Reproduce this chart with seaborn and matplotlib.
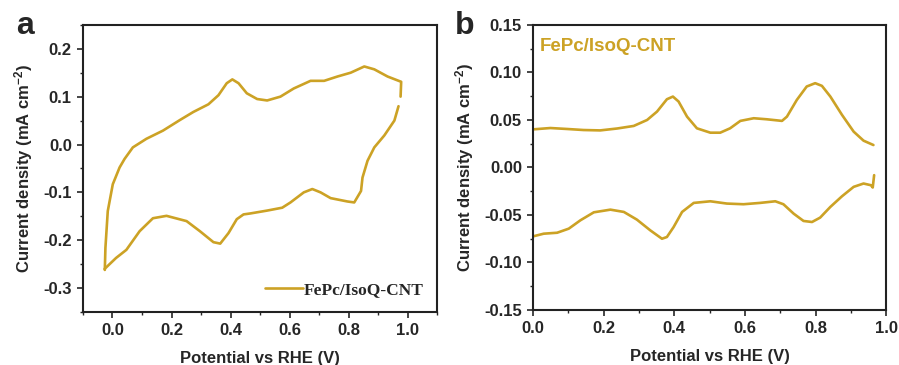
import matplotlib
matplotlib.use("Agg")
import matplotlib.pyplot as plt
from matplotlib.ticker import MultipleLocator, FormatStrFormatter
import pandas as pd
import seaborn as sns

# panel a: CV loop, anodic (upper) branch and cathodic (lower) branch
a_up_x = [-0.026, -0.024, -0.016, 0.001, 0.024, 0.041, 0.069, 0.115, 0.171, 0.228,
          0.274, 0.325, 0.359, 0.387, 0.406, 0.427, 0.455, 0.490, 0.524, 0.569,
          0.614, 0.671, 0.717, 0.762, 0.807, 0.853, 0.887, 0.932, 0.978, 0.976]
a_up_y = [-0.262, -0.216, -0.139, -0.083, -0.048, -0.030, -0.006, 0.012, 0.029, 0.051,
          0.068, 0.084, 0.103, 0.128, 0.136, 0.128, 0.107, 0.095, 0.092, 0.100,
          0.117, 0.133, 0.133, 0.142, 0.150, 0.163, 0.157, 0.142, 0.131, 0.100]
a_dn_x = [0.969, 0.955, 0.921, 0.887, 0.864, 0.847, 0.842, 0.819, 0.796, 0.739,
          0.705, 0.677, 0.648, 0.603, 0.575, 0.524, 0.467, 0.444, 0.421, 0.393,
          0.365, 0.342, 0.296, 0.251, 0.183, 0.137, 0.092, 0.047, 0.012, -0.027]
a_dn_y = [0.080, 0.050, 0.019, -0.006, -0.034, -0.069, -0.097, -0.121, -0.119, -0.112,
          -0.100, -0.093, -0.100, -0.121, -0.132, -0.138, -0.144, -0.146, -0.156, -0.185,
          -0.207, -0.204, -0.181, -0.160, -0.149, -0.154, -0.181, -0.220, -0.237, -0.260]

# panel b: two branches
b_up_x = [0.000, 0.049, 0.096, 0.143, 0.190, 0.238, 0.285, 0.323, 0.351, 0.379,
          0.396, 0.412, 0.436, 0.464, 0.502, 0.530, 0.558, 0.587, 0.625, 0.662,
          0.705, 0.719, 0.747, 0.775, 0.799, 0.818, 0.842, 0.875, 0.908, 0.936, 0.964]
b_up_y = [0.0401, 0.0415, 0.0405, 0.0394, 0.0390, 0.0410, 0.0437, 0.0500, 0.0588, 0.0718,
          0.0746, 0.0694, 0.0535, 0.0412, 0.0366, 0.0366, 0.0412, 0.0490, 0.0518, 0.0507,
          0.0490, 0.0535, 0.0711, 0.0852, 0.0887, 0.0859, 0.0746, 0.0553, 0.0377, 0.0282, 0.0236]
b_dn_x = [0.000, 0.030, 0.068, 0.101, 0.134, 0.172, 0.219, 0.257, 0.294, 0.332,
          0.365, 0.379, 0.398, 0.422, 0.455, 0.502, 0.549, 0.596, 0.643, 0.686,
          0.709, 0.738, 0.766, 0.790, 0.813, 0.842, 0.875, 0.908, 0.936, 0.957, 0.962, 0.966]
b_dn_y = [-0.0725, -0.0697, -0.0687, -0.0644, -0.0556, -0.0472, -0.0444, -0.0468, -0.0549, -0.0662,
          -0.0750, -0.0732, -0.0627, -0.0468, -0.0373, -0.0356, -0.0380, -0.0387, -0.0373, -0.0356,
          -0.0387, -0.0486, -0.0563, -0.0574, -0.0528, -0.0415, -0.0303, -0.0204, -0.0169, -0.0187, -0.0211, -0.0081]

label = "FePc/IsoQ-CNT"
gold = "#CCA225"

sns.set_style("ticks")
plt.rcParams['font.family'] = ['Liberation Sans', 'DejaVu Sans']
plt.rcParams['font.weight'] = 'bold'
plt.rcParams['axes.labelweight'] = 'bold'
plt.rcParams['mathtext.fontset'] = 'custom'
plt.rcParams['mathtext.rm'] = 'Liberation Sans:bold'
plt.rcParams['mathtext.bf'] = 'Liberation Sans:bold'
plt.rcParams['mathtext.default'] = 'bf'

fig = plt.figure(figsize=(8.99, 3.65), dpi=100)
ax1 = fig.add_axes([0.0923, 0.145, 0.394, 0.787])
ax2 = fig.add_axes([0.593, 0.1507, 0.3927, 0.781])

line_kw = dict(color=gold, lw=1.9, sort=False, solid_joinstyle='round', solid_capstyle='round')
sns.lineplot(data=pd.DataFrame({'x': a_up_x, 'y': a_up_y}), x='x', y='y', ax=ax1, label=label, **line_kw)
sns.lineplot(data=pd.DataFrame({'x': a_dn_x, 'y': a_dn_y}), x='x', y='y', ax=ax1, **line_kw)
sns.lineplot(data=pd.DataFrame({'x': b_up_x, 'y': b_up_y}), x='x', y='y', ax=ax2, **line_kw)
sns.lineplot(data=pd.DataFrame({'x': b_dn_x, 'y': b_dn_y}), x='x', y='y', ax=ax2, **line_kw)

ax1.set_xlim(-0.1, 1.1)
ax1.set_ylim(-0.35, 0.25)
ax1.xaxis.set_major_locator(MultipleLocator(0.2))
ax1.xaxis.set_minor_locator(MultipleLocator(0.1))
ax1.yaxis.set_major_locator(MultipleLocator(0.1))
ax1.yaxis.set_minor_locator(MultipleLocator(0.05))
ax1.xaxis.set_major_formatter(FormatStrFormatter('%.1f'))
ax1.yaxis.set_major_formatter(FormatStrFormatter('%.1f'))

ax2.set_xlim(0, 1.0)
ax2.set_ylim(-0.15, 0.15)
ax2.xaxis.set_major_locator(MultipleLocator(0.2))
ax2.xaxis.set_minor_locator(MultipleLocator(0.1))
ax2.yaxis.set_major_locator(MultipleLocator(0.05))
ax2.yaxis.set_minor_locator(MultipleLocator(0.025))
ax2.xaxis.set_major_formatter(FormatStrFormatter('%.1f'))
ax2.yaxis.set_major_formatter(FormatStrFormatter('%.2f'))

for ax in (ax1, ax2):
    for s in ax.spines.values():
        s.set_visible(True)
        s.set_linewidth(1.5)
        s.set_color('#222222')
    ax.tick_params(which='major', direction='out', length=4, width=1.2, pad=4,
                   labelsize=12, top=False, right=False)
    ax.tick_params(which='minor', direction='out', length=2.5, width=1.0,
                   top=False, right=False)
    ax.set_xlabel('Potential vs RHE (V)', fontsize=12, labelpad=9)
    ax.set_ylabel('Current density (mA cm$^{-2}$)', fontsize=12, labelpad=6)
    for t in ax.get_xticklabels() + ax.get_yticklabels():
        t.set_fontweight('bold')

ax1.legend(loc='lower right', frameon=False, handlelength=2.2, handletextpad=0.0,
           borderaxespad=0.4, prop={'family': 'Liberation Serif', 'weight': 'bold', 'size': 12.5})

ax2.text(0.02, 0.955, label, transform=ax2.transAxes, color=gold, fontsize=13.5,
         fontweight='bold', ha='left', va='top')

fig.text(0.028, 0.93, 'a', fontsize=23, fontweight='bold', ha='center', va='center')
fig.text(0.517, 0.93, 'b', fontsize=23, fontweight='bold', ha='center', va='center')

fig.savefig('out.png', dpi=100)
